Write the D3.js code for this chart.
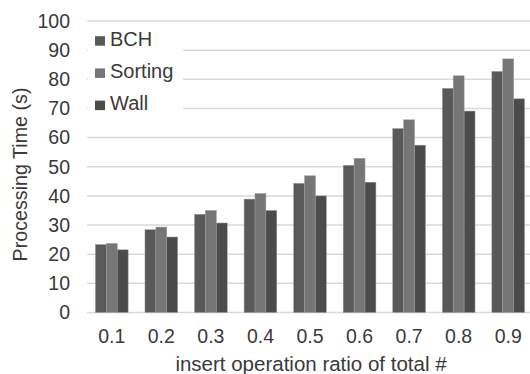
<!DOCTYPE html>
<html>
<head>
<meta charset="utf-8">
<script src="https://cdn.jsdelivr.net/npm/d3@7"></script>
<style>
  body { margin: 0; background: #fff; }
  text { font-family: "Liberation Sans", Arial, sans-serif; fill: #3a3a3a; }
</style>
</head>
<body>
<div id="chart"></div>
<script>
const categories = ["0.1", "0.2", "0.3", "0.4", "0.5", "0.6", "0.7", "0.8", "0.9"];
const seriesNames = ["BCH", "Sorting", "Wall"];
const bch = [23.3, 28.4, 33.7, 38.9, 44.3, 50.5, 63.1, 76.9, 82.7];
const sorting = [23.7, 29.3, 35.0, 40.8, 46.9, 52.9, 66.1, 81.2, 87.0];
const wall = [21.5, 25.9, 30.7, 35.0, 40.0, 44.7, 57.4, 69.1, 73.3];
const yTicks = [0, 10, 20, 30, 40, 50, 60, 70, 80, 90, 100];

const colors = ["#595959", "#767676", "#4b4b4b"];
const values = [bch, sorting, wall];

const W = 530, H = 374;
const svg = d3.select("#chart").append("svg")
    .attr("width", W)
    .attr("height", H);

const x = d3.scaleBand()
    .domain(categories)
    .range([87, 533])
    .paddingInner(0.34)
    .paddingOuter(0.17);

const xs = d3.scaleBand()
    .domain(seriesNames)
    .range([0, x.bandwidth()]);

const y = d3.scaleLinear()
    .domain([0, 100])
    .range([312.5, 21]);

// gridlines
svg.append("g")
    .selectAll("line")
    .data(yTicks)
    .join("line")
    .attr("x1", 87)
    .attr("x2", W)
    .attr("y1", d => y(d))
    .attr("y2", d => y(d))
    .attr("stroke", "#d9d9d9")
    .attr("stroke-width", 1.5);

// y tick labels
svg.append("g")
    .selectAll("text")
    .data(yTicks)
    .join("text")
    .attr("x", 70)
    .attr("y", d => y(d))
    .attr("dy", "0.35em")
    .attr("text-anchor", "end")
    .attr("font-size", 19.5)
    .text(d => d);

// bars
const groups = svg.append("g")
    .selectAll("g")
    .data(categories)
    .join("g")
    .attr("transform", d => `translate(${x(d)},0)`);

groups.selectAll("rect")
    .data((d, i) => seriesNames.map((s, j) => ({ s, v: values[j][i], j })))
    .join("rect")
    .attr("x", d => xs(d.s))
    .attr("width", xs.bandwidth())
    .attr("y", d => y(d.v))
    .attr("height", d => y(0) - y(d.v))
    .attr("fill", d => colors[d.j])
    .attr("stroke", "#9a9a9a")
    .attr("stroke-width", 0.5);

// x tick labels
svg.append("g")
    .selectAll("text")
    .data(categories)
    .join("text")
    .attr("x", d => x(d) + x.bandwidth() / 2)
    .attr("y", 343)
    .attr("text-anchor", "middle")
    .attr("font-size", 19.5)
    .text(d => d);

// axis titles
svg.append("text")
    .attr("x", 311)
    .attr("y", 371)
    .attr("text-anchor", "middle")
    .attr("font-size", 20.5)
    .text("insert operation ratio of total #");

svg.append("text")
    .attr("transform", "translate(27,174.5) rotate(-90)")
    .attr("text-anchor", "middle")
    .attr("font-size", 19.7)
    .text("Processing Time (s)");

// legend
const legend = svg.append("g");
legend.append("rect")
    .attr("x", 88)
    .attr("y", 24)
    .attr("width", 95)
    .attr("height", 100)
    .attr("fill", "#fff");

const items = legend.selectAll("g")
    .data(seriesNames)
    .join("g")
    .attr("transform", (d, i) => `translate(95,${45.7 + i * 32.2})`);

items.append("rect")
    .attr("x", 0)
    .attr("y", -9.5)
    .attr("width", 10)
    .attr("height", 9.5)
    .attr("fill", (d, i) => colors[i]);

items.append("text")
    .attr("x", 15)
    .attr("font-size", 20)
    .text(d => d);
</script>
</body>
</html>
